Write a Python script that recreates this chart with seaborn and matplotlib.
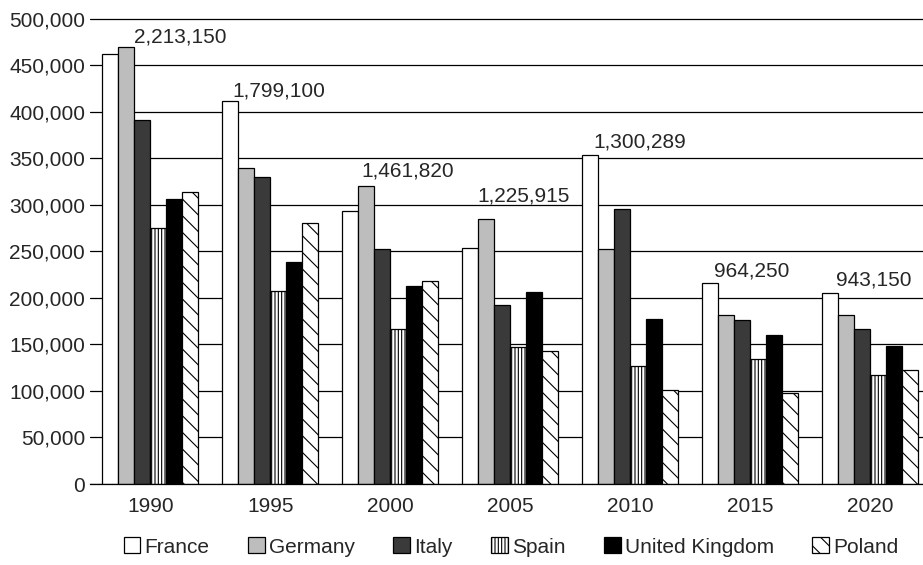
import pandas as pd
import seaborn as sns
import matplotlib
matplotlib.use("Agg")
import matplotlib.pyplot as plt
from matplotlib.ticker import FuncFormatter, MultipleLocator

# values
years = ["1990", "1995", "2000", "2005", "2010", "2015", "2020"]
countries = ["France", "Germany", "Italy", "Spain", "United Kingdom", "Poland"]
france = [462000, 411000, 293000, 254000, 354000, 216000, 205000]
germany = [470000, 339000, 320000, 285000, 252500, 182000, 182000]
italy = [391000, 330000, 252500, 192000, 295000, 176000, 166000]
spain = [275000, 207000, 166000, 147000, 127000, 134000, 117500]
uk = [306000, 239000, 213000, 206000, 177000, 160000, 148000]
poland = [314000, 280000, 218000, 142500, 101000, 98000, 122000]
totals = ["2,213,150", "1,799,100", "1,461,820", "1,225,915", "1,300,289", "964,250", "943,150"]

series = [france, germany, italy, spain, uk, poland]
rows = []
for name, vals in zip(countries, series):
    for yr, v in zip(years, vals):
        rows.append({"Year": yr, "Country": name, "Value": v})
df = pd.DataFrame(rows)

# styling
colors = {"France": "white", "Germany": "#bdbdbd", "Italy": "#3a3a3a",
          "Spain": "white", "United Kingdom": "black", "Poland": "white"}
hatches = {"Spain": "|" * 5, "Poland": "\\\\"}
label_dx = [30, 8, 17, 13, 9, 1, 3]       # pixels from group centre
label_dy = [10, 10, 15, 23, 13, 12, 13]   # pixels above tallest bar

sns.set_style("white")
plt.rcParams["font.family"] = ["Liberation Sans", "DejaVu Sans"]
plt.rcParams["hatch.linewidth"] = 0.8

fig = plt.figure(figsize=(9.23, 5.65), dpi=100)
ax = fig.add_axes([90 / 923, 81 / 565, 833 / 923, 466.3 / 565])

sns.barplot(data=df, x="Year", y="Value", hue="Country", order=years,
            hue_order=countries, palette=colors, edgecolor="black",
            linewidth=0.9, errorbar=None, width=0.8, legend=False, ax=ax)

for cont, name in zip(ax.containers, countries):
    for bar in cont:
        bar.set_edgecolor("black")
        if name in hatches:
            bar.set_hatch(hatches[name])

# totals above each group
for i, lab in enumerate(totals):
    top = max(s[i] for s in series)
    ax.annotate(lab, xy=(i, top), xytext=(label_dx[i], label_dy[i]),
                textcoords="offset pixels", ha="center", va="center",
                fontsize=15)

ax.set_ylim(0, 501000)
ax.set_xlim(-0.503, 6.438)
ax.yaxis.set_major_locator(MultipleLocator(50000))
ax.yaxis.set_major_formatter(FuncFormatter(lambda v, p: f"{v:,.0f}"))
ax.yaxis.grid(True, color="black", linewidth=0.9)
ax.set_axisbelow(True)
for s in ["top", "right", "left"]:
    ax.spines[s].set_visible(False)
ax.spines["bottom"].set_color("black")
ax.spines["bottom"].set_linewidth(0.9)
ax.tick_params(axis="y", length=0, pad=3.6, labelsize=15)
ax.tick_params(axis="x", length=0, pad=9, labelsize=15)
ax.set_xlabel("")
ax.set_ylabel("")

fig.legend(handles=list(ax.containers), labels=countries, loc="center",
           bbox_to_anchor=(511 / 923, 18 / 565), ncol=6, frameon=False,
           fontsize=15, handlelength=0.8, handleheight=0.8,
           handletextpad=0.2, columnspacing=1.85, borderpad=0)

fig.savefig("out.png", dpi=100)
